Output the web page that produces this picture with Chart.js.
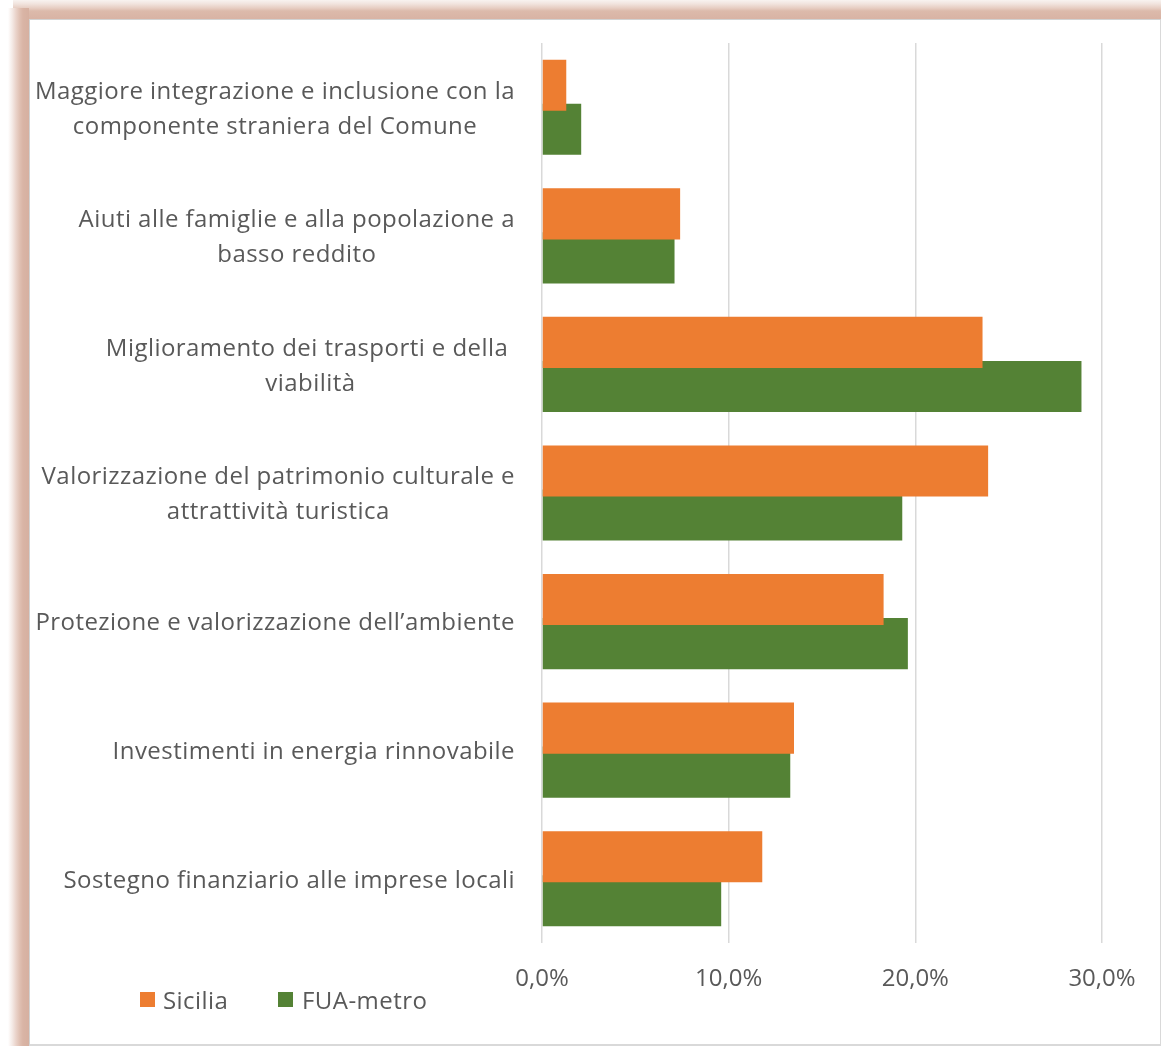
<!DOCTYPE html>
<html>
<head>
<meta charset="utf-8">
<script src="https://cdn.jsdelivr.net/npm/chart.js@4.4.1/dist/chart.umd.min.js"></script>
<style>
  html, body { margin:0; padding:0; background:#ffffff; width:1161px; height:1046px; overflow:hidden; }
  .topband {
    position:absolute; left:13px; top:0; width:1148px; height:19px;
    background: linear-gradient(to bottom, #f8f3f0 0px, #f1e3dd 4px, #e7cec3 8px, #dcbaab 11px, #d9b4a5 18px, #d9b4a5 19px);
  }
  .leftband {
    position:absolute; left:8px; top:8px; width:21px; height:1038px;
    background: linear-gradient(to right, rgba(255,255,255,0) 0px, #f5ebe7 4px, #ead3ca 8px, #dfbfb1 12px, #d9b4a5 15px, #d6b0a0 21px);
  }
  .frame {
    position:absolute; left:29px; top:19px; width:1130px; height:1024px;
    background:#ffffff;
    border-left:1px solid #d2d2d2; border-top:1px solid #d2d2d2;
    border-right:2px solid #d9d9d9; border-bottom:2px solid #d9d9d9;
  }
  canvas { position:absolute; left:0; top:0; }
</style>
</head>
<body>
<div class="topband"></div>
<div class="leftband"></div>
<div class="frame"></div>
<canvas id="c" width="1161" height="1046"></canvas>
<script>
const categories = [
  ["Maggiore integrazione e inclusione con la", "componente straniera del Comune"],
  ["Aiuti alle famiglie e alla popolazione a", "basso reddito"],
  ["Miglioramento dei trasporti e della ", "viabilità"],
  ["Valorizzazione del patrimonio culturale e", "attrattività turistica"],
  ["Protezione e valorizzazione dell’ambiente"],
  ["Investimenti in energia rinnovabile"],
  ["Sostegno finanziario alle imprese locali"]
];
const seriesNames = ["Sicilia", "FUA-metro"];
const sicilia = [1.3, 7.4, 23.6, 23.9, 18.3, 13.5, 11.8];
const fuaMetro = [2.1, 7.1, 28.9, 19.3, 19.6, 13.3, 9.6];
const xTicks = [0, 10, 20, 30];

const FONT = '"Open Sans", sans-serif';
const FSIZE = 24;
const SPACING = '0.45px';
const TXT = '#595959';

const yLabelPlugin = {
  id: 'yLabels',
  afterDraw(chart) {
    const ctx = chart.ctx;
    const y = chart.scales.y;
    const right = chart.chartArea.left - 27;
    ctx.save();
    ctx.font = FSIZE + 'px ' + FONT;
    ctx.letterSpacing = SPACING;
    ctx.fillStyle = TXT;
    ctx.textAlign = 'center';
    ctx.textBaseline = 'middle';
    chart.data.labels.forEach((lines, i) => {
      const cy = y.getPixelForValue(i) + 2;
      let w = 0;
      lines.forEach(l => { w = Math.max(w, ctx.measureText(l).width); });
      const cx = right - w / 2;
      const lh = 35;
      lines.forEach((l, k) => {
        ctx.fillText(l, cx, cy + (k - (lines.length - 1) / 2) * lh);
      });
    });
    ctx.restore();
  }
};

const legendPlugin = {
  id: 'customLegend',
  afterDraw(chart) {
    const ctx = chart.ctx;
    const pos = [[140, 163], [278, 302]];
    ctx.save();
    ctx.font = FSIZE + 'px ' + FONT;
    ctx.letterSpacing = SPACING;
    ctx.textBaseline = 'middle';
    ctx.textAlign = 'left';
    chart.data.datasets.forEach((ds, i) => {
      ctx.fillStyle = ds.backgroundColor;
      ctx.fillRect(pos[i][0], 992, 15, 15);
      ctx.fillStyle = TXT;
      ctx.fillText(ds.label, pos[i][1], 1002);
    });
    ctx.restore();
  }
};

new Chart(document.getElementById('c'), {
  type: 'bar',
  data: {
    labels: categories,
    datasets: [
      { label: seriesNames[0], data: sicilia, backgroundColor: '#ED7D31',
        categoryPercentage: 0.685, barPercentage: 1.16, borderWidth: 0 },
      { label: seriesNames[1], data: fuaMetro, backgroundColor: '#548235',
        categoryPercentage: 0.685, barPercentage: 1.16, borderWidth: 0 }
    ]
  },
  options: {
    indexAxis: 'y',
    responsive: false,
    animation: false,
    devicePixelRatio: 1,
    layout: { padding: { left: 0, top: 43, right: 59, bottom: 0 } },
    plugins: { legend: { display: false }, tooltip: { enabled: false } },
    scales: {
      x: {
        min: 0, max: 30,
        afterFit(s) { s.height = 103; },
        afterBuildTicks(s) { s.ticks = xTicks.map(v => ({ value: v })); },
        grid: { color: '#d9d9d9', lineWidth: 1.5, drawTicks: false },
        border: { display: false },
        ticks: {
          padding: 22,
          color: TXT,
          font: { family: FONT, size: FSIZE },
          callback: v => v.toFixed(1).replace('.', ',') + '%'
        }
      },
      y: {
        afterFit(s) { s.width = 542; },
        grid: { display: false },
        border: { display: false },
        ticks: { display: false }
      }
    }
  },
  plugins: [yLabelPlugin, legendPlugin]
});
</script>
</body>
</html>
